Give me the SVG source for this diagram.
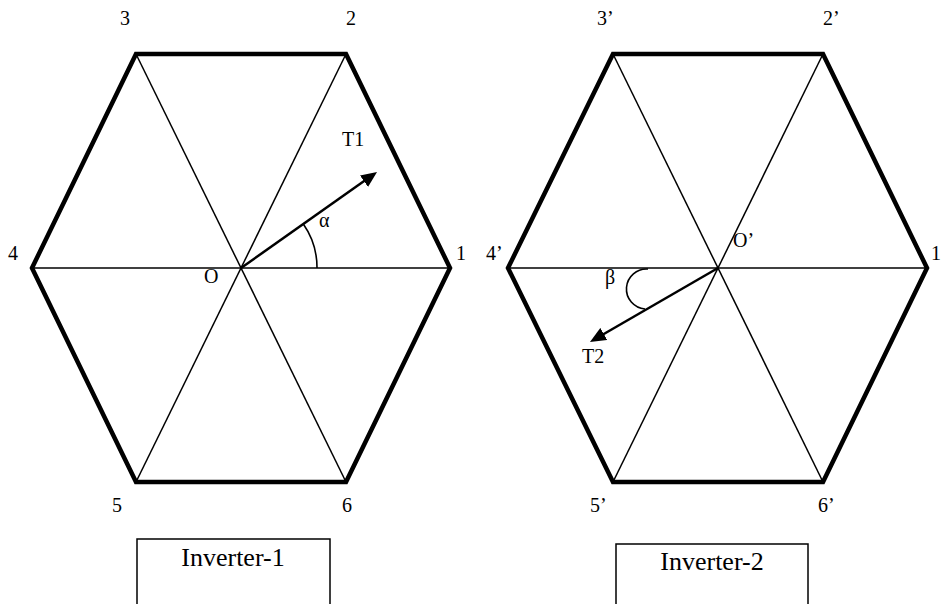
<svg xmlns="http://www.w3.org/2000/svg" width="941" height="604" viewBox="0 0 941 604">
<style>
text{font-family:"Liberation Serif","Times New Roman",serif;fill:#000}
.lbl{font-size:20px}
.big{font-size:26px}
.hex{fill:none;stroke:#000;stroke-width:4.5;stroke-linejoin:miter}
.spoke{stroke:#000;stroke-width:1.5;fill:none}
.vec{stroke:#000;stroke-width:2.5;fill:none}
.arc{stroke:#000;stroke-width:1.6;fill:none}
.box{fill:#fff;stroke:#000;stroke-width:1.5}
</style>
<defs>
<marker id="ah" viewBox="0 0 16 14" refX="8" refY="7" markerWidth="16" markerHeight="14" markerUnits="userSpaceOnUse" orient="auto">
<path d="M0,0 L16,7 L0,14 Z" fill="#000"/>
</marker>
</defs>
<rect width="941" height="604" fill="#fff"/>

<g id="hexagon-1">
<polygon class="hex" points="32,268 136,54 346,54 450,268 346,482 136,482"/>
<line class="spoke" x1="136" y1="54" x2="346" y2="482"/>
<line class="spoke" x1="346" y1="54" x2="136" y2="482"/>
<line class="spoke" x1="32" y1="268" x2="450" y2="268"/>
<text class="lbl" x="120" y="25">3</text>
<text class="lbl" x="346" y="25">2</text>
<text class="lbl" x="8" y="260">4</text>
<text class="lbl" x="456" y="260">1</text>
<text class="lbl" x="204" y="283">O</text>
<text class="lbl" x="112" y="512">5</text>
<text class="lbl" x="342" y="512">6</text>
<text class="lbl" x="342" y="146">T1</text>
<text class="lbl" x="319" y="227">α</text>
</g>

<g id="hexagon-2">
<polygon class="hex" points="508,268 613,54 823,54 927,268 823,482 613,482"/>
<line class="spoke" x1="613" y1="54" x2="823" y2="482"/>
<line class="spoke" x1="823" y1="54" x2="613" y2="482"/>
<line class="spoke" x1="508" y1="268" x2="927" y2="268"/>
<text class="lbl" x="597" y="25">3’</text>
<text class="lbl" x="823" y="25">2’</text>
<text class="lbl" x="486" y="260">4’</text>
<text class="lbl" x="931" y="260">1</text>
<text class="lbl" x="733" y="247">O’</text>
<text class="lbl" x="590" y="512">5’</text>
<text class="lbl" x="818" y="512">6’</text>
<text class="lbl" x="582" y="363">T2</text>
<text class="lbl" x="605" y="284">β</text>
</g>

<g id="inverter-1">
<rect class="box" x="137" y="539" width="193" height="80"/>
<text class="big" x="233" y="566" text-anchor="middle">Inverter-1</text>
</g>

<g id="inverter-2">
<rect class="box" x="616" y="544" width="192" height="80"/>
<text class="big" x="712" y="570" text-anchor="middle">Inverter-2</text>
</g>

<g id="connectors">
<line class="vec" x1="241" y1="268" x2="370.5" y2="176.6" marker-end="url(#ah)"/>
<path class="arc" d="M 317 268 A 76 76 0 0 0 303.3 224"/>
<line class="vec" x1="718" y1="268" x2="596.9" y2="338" marker-end="url(#ah)"/>
<path class="arc" d="M 648 269 A 20 20 0 0 0 645 309"/>
</g>
</svg>
